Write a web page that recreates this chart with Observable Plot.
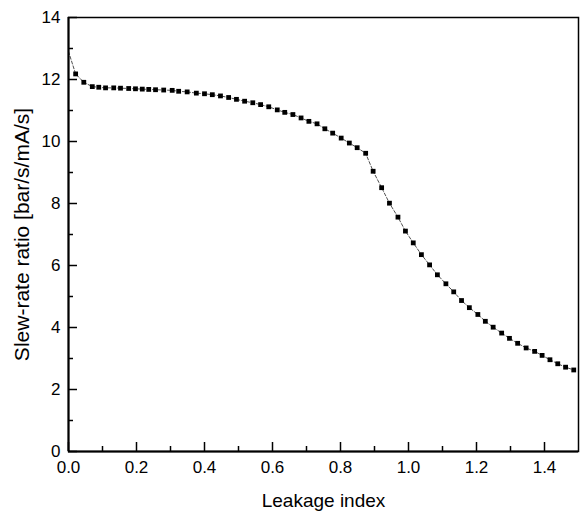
<!DOCTYPE html>
<html>
<head>
<meta charset="utf-8">
<script src="https://cdn.jsdelivr.net/npm/d3@7"></script>
<script src="https://cdn.jsdelivr.net/npm/@observablehq/plot@0.6"></script>
<style>
  html, body { margin: 0; padding: 0; background: #fff; }
  #chart svg { display: block; }
</style>
</head>
<body>
<div id="chart"></div>
<script>
// Leakage index (x) and slew-rate ratio (y)
const leakageIndex = [
  0.000, 0.021, 0.045, 0.070, 0.089, 0.109, 0.133, 0.153, 0.177, 0.197,
  0.217, 0.236, 0.256, 0.280, 0.305, 0.324, 0.349, 0.376, 0.400, 0.423,
  0.447, 0.471, 0.494, 0.518, 0.542, 0.565, 0.589, 0.614, 0.636, 0.660,
  0.684, 0.707, 0.731, 0.754, 0.777, 0.802, 0.826, 0.849, 0.874, 0.896,
  0.921, 0.944, 0.969, 0.991, 1.014, 1.038, 1.062, 1.085, 1.110, 1.133,
  1.156, 1.179, 1.204, 1.226, 1.249, 1.274, 1.297, 1.321, 1.346, 1.371,
  1.393, 1.416, 1.439, 1.462, 1.486
];
const slewRateRatio = [
  12.90, 12.18, 11.91, 11.77, 11.75, 11.73, 11.73, 11.72, 11.71, 11.70,
  11.69, 11.68, 11.67, 11.66, 11.65, 11.62, 11.60, 11.56, 11.54, 11.51,
  11.47, 11.42, 11.36, 11.30, 11.25, 11.19, 11.12, 11.02, 10.94, 10.87,
  10.76, 10.65, 10.57, 10.41, 10.27, 10.11, 9.95, 9.80, 9.62, 9.04,
  8.51, 8.01, 7.56, 7.11, 6.73, 6.35, 6.02, 5.70, 5.41, 5.15,
  4.87, 4.64, 4.42, 4.20, 4.01, 3.82, 3.65, 3.49, 3.34, 3.23,
  3.10, 2.96, 2.83, 2.72, 2.63
];
const xMajorTicks = [0, 0.2, 0.4, 0.6, 0.8, 1.0, 1.2, 1.4];
const xMinorTicks = [0.1, 0.3, 0.5, 0.7, 0.9, 1.1, 1.3];
const yMajorTicks = [0, 2, 4, 6, 8, 10, 12, 14];
const yMinorTicks = [1, 3, 5, 7, 9, 11, 13];
const xLabel = "Leakage index";
const yLabel = "Slew-rate ratio [bar/s/mA/s]";

const data = leakageIndex.map((x, i) => ({x, y: slewRateRatio[i]}));
// the curve starts on the y axis; its first point carries no marker there
const markerData = data.filter(d => d.x > 0);

const W = 583, H = 513;
const mL = 68, mR = 5, mT = 17, mB = 62;
const plotW = W - mL - mR, plotH = H - mT - mB;
const font = "Liberation Sans, Arial, Helvetica, sans-serif";

const chart = Plot.plot({
  width: W,
  height: H,
  marginLeft: mL,
  marginRight: mR,
  marginTop: mT,
  marginBottom: mB,
  style: {fontFamily: font, background: "#fff", color: "#000"},
  x: {domain: [0, 1.5]},
  y: {domain: [0, 14]},
  marks: [
    Plot.line(data, {x: "x", y: "y", stroke: "#222", strokeWidth: 0.8, strokeDasharray: "3,2"}),
    Plot.dot(markerData, {x: "x", y: "y", symbol: "square", r: 2.7, fill: "#000", stroke: null}),
    // inward ticks
    Plot.ruleX(xMajorTicks, {x: d => d, insetTop: plotH - 9, stroke: "#000", strokeWidth: 1.5}),
    Plot.ruleX(xMinorTicks, {x: d => d, insetTop: plotH - 5, stroke: "#000", strokeWidth: 1.5}),
    Plot.ruleY(yMajorTicks, {y: d => d, insetRight: plotW - 9, stroke: "#000", strokeWidth: 1.5}),
    Plot.ruleY(yMinorTicks, {y: d => d, insetRight: plotW - 5, stroke: "#000", strokeWidth: 1.5}),
    Plot.frame({stroke: "#000", strokeWidth: 1.5}),
    Plot.ruleX([0], {stroke: "#000", strokeWidth: 2}),
    Plot.ruleY([0], {stroke: "#000", strokeWidth: 2}),
    Plot.axisX({ticks: xMajorTicks, tickSize: 0, tickPadding: 9, tickFormat: d3.format(".1f"),
      fontSize: 17, label: null, fill: "#000"}),
    Plot.axisY({ticks: yMajorTicks, tickSize: 0, tickPadding: 8, tickFormat: d3.format("d"),
      fontSize: 17, label: null, fill: "#000"}),
    Plot.text([xLabel], {text: d => d, frameAnchor: "bottom", dy: 49, lineAnchor: "middle",
      textAnchor: "middle", fontSize: 19, fill: "#000"}),
    Plot.text([yLabel], {text: d => d, frameAnchor: "left", dx: -46, rotate: -90, lineAnchor: "middle",
      textAnchor: "middle", fontSize: 21, fill: "#000"})
  ]
});
document.getElementById("chart").appendChild(chart);
</script>
</body>
</html>
